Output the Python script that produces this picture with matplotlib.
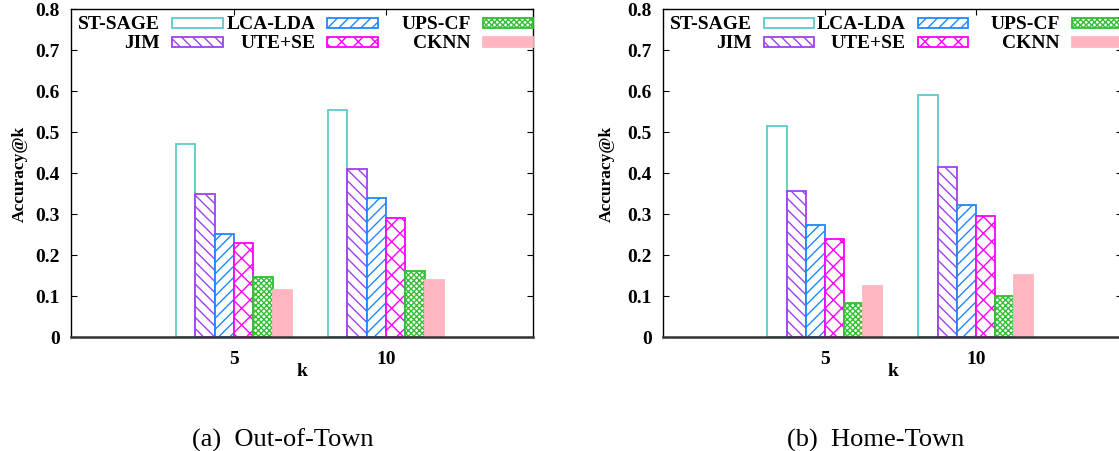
import numpy as np
import matplotlib
matplotlib.use("Agg")
import matplotlib.pyplot as plt
from matplotlib.patches import Rectangle

plt.rcParams['font.family'] = ['Liberation Serif', 'DejaVu Serif']
plt.rcParams['font.weight'] = 'bold'
plt.rcParams['hatch.linewidth'] = 1.0

# ── Data ───────────────────────────────────────────────────────────────────
K_LABELS = ['5', '10']
METHODS  = ['ST-SAGE', 'JIM', 'LCA-LDA', 'UTE+SE', 'UPS-CF', 'CKNN']

out_town = {
    'ST-SAGE': [0.470, 0.554],
    'JIM':     [0.347, 0.409],
    'LCA-LDA': [0.251, 0.338],
    'UTE+SE':  [0.228, 0.289],
    'UPS-CF':  [0.146, 0.160],
    'CKNN':    [0.114, 0.138],
}
home_town = {
    'ST-SAGE': [0.513, 0.591],
    'JIM':     [0.355, 0.415],
    'LCA-LDA': [0.272, 0.322],
    'UTE+SE':  [0.239, 0.295],
    'UPS-CF':  [0.082, 0.099],
    'CKNN':    [0.124, 0.151],
}

# ── Styles ─────────────────────────────────────────────────────────────────
EDGE  = {'ST-SAGE': '#5fc8c8', 'JIM': '#a040f0', 'LCA-LDA': '#1e88ff',
         'UTE+SE': '#ff00ff', 'UPS-CF': '#30c030', 'CKNN': '#ffb6c1'}
FACE  = {m: 'white' for m in METHODS}
FACE['CKNN'] = '#ffb6c1'
HATCH = {'ST-SAGE': None, 'JIM': '\\\\\\', 'LCA-LDA': '///',
         'UTE+SE': 'xx', 'UPS-CF': 'xxxxxx', 'CKNN': None}

W = 1119
H = 452
BAR_W = 0.127
FS = 14


def draw_panel(ax, data, ylab_x):
    x = np.arange(len(K_LABELS))
    for j, m in enumerate(METHODS):
        off = (j - 2.5) * BAR_W
        ax.bar(x + off, data[m], width=BAR_W, facecolor=FACE[m],
               edgecolor=EDGE[m], hatch=HATCH[m], linewidth=1.3, zorder=2)

    ax.set_xlim(-1.072, 1.967)
    ax.set_ylim(0, 0.8)
    ax.set_xticks(x)
    ax.set_xticklabels(K_LABELS, fontsize=FS, fontweight='bold')
    yt = np.round(np.arange(0, 0.81, 0.1), 1)
    ax.set_yticks(yt)
    ax.set_yticklabels(['0' if v == 0 else f'{v:.1f}' for v in yt],
                       fontsize=FS, fontweight='bold')
    ax.tick_params(axis='y', direction='in', length=4.3, width=0.8,
                   right=True, pad=8)
    ax.tick_params(axis='x', direction='in', length=4.3, width=0.8,
                   top=True, bottom=False, pad=10)

    for s in ax.spines.values():
        s.set_linewidth(1.0)
        s.set_color('black')
    ax.spines['bottom'].set_linewidth(1.8)
    ax.spines['bottom'].set_color('#333333')

    ax.set_xlabel('k', fontsize=FS, fontweight='bold', va='center')
    ax.xaxis.set_label_coords(0.5, -0.105)
    ax.set_ylabel('Accuracy@k', fontsize=12.5, fontweight='bold', va='center')
    ax.yaxis.set_label_coords(ylab_x, 0.5)

    # gnuplot-style key: label right-aligned, swatch after it
    rows = [0.957, 0.899]
    sw_h = 10 / 327.5
    for j, m in enumerate(METHODS):
        c, r = divmod(j, 2)
        x0 = 0.219 + c * 0.336
        y0 = rows[r]
        ax.add_patch(Rectangle((x0, y0 - sw_h / 2), 0.11, sw_h,
                               transform=ax.transAxes, facecolor=FACE[m],
                               edgecolor=EDGE[m], hatch=HATCH[m],
                               linewidth=1.3, clip_on=False, zorder=3))
        ax.text(x0 - 0.026, y0, m, transform=ax.transAxes, ha='right',
                va='center', fontsize=FS, fontweight='bold')


fig = plt.figure(figsize=(W / 100, H / 100), dpi=100)
ax1 = fig.add_axes([71 / W, 1 - 337.5 / H, 462 / W, 327.5 / H])
ax2 = fig.add_axes([663 / W, 1 - 337.5 / H, 459 / W, 327.5 / H])

draw_panel(ax1, out_town, -0.110)
draw_panel(ax2, home_town, -0.122)

fig.text(283 / W, 1 - 447 / H, '(a)  Out-of-Town', ha='center', va='baseline',
         fontsize=19, fontweight='normal')
fig.text(876 / W, 1 - 447 / H, '(b)  Home-Town', ha='center', va='baseline',
         fontsize=19, fontweight='normal')

fig.savefig('out.png', dpi=100)
